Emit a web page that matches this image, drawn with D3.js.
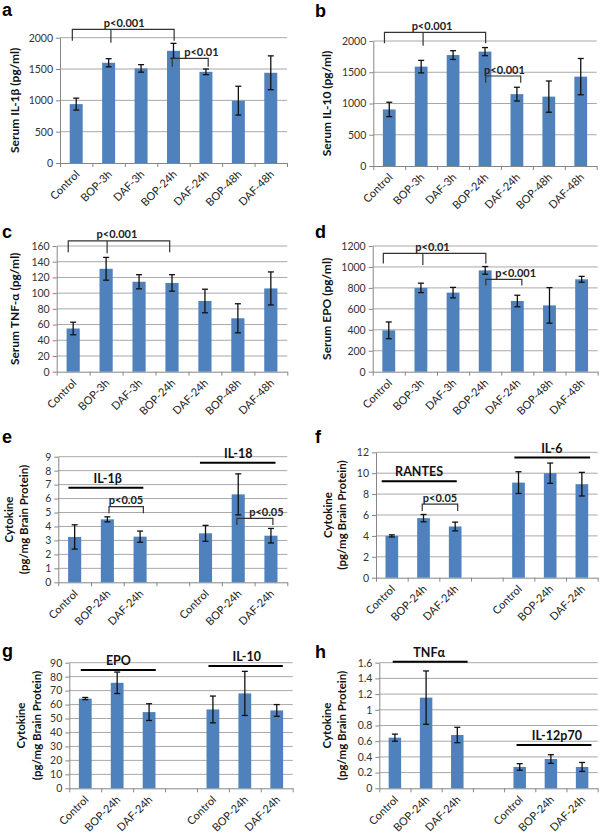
<!DOCTYPE html>
<html><head><meta charset="utf-8">
<script src="https://cdn.jsdelivr.net/npm/d3@7"></script>
<style>body{margin:0;background:#fff} svg{display:block}</style>
</head><body><svg id="chart" width="600" height="836"></svg>
<script>
// ---------- DATA ----------
const serumCats = ["Control","BOP-3h","DAF-3h","BOP-24h","DAF-24h","BOP-48h","DAF-48h"];
const brainCats = ["Control","BOP-24h","DAF-24h","","Control","BOP-24h","DAF-24h"];

const il1bSerum    = [940,1600,1510,1790,1455,995,1440];
const il1bSerumErr = [95,65,60,120,45,230,270];
const il10Serum    = [905,1590,1775,1830,1150,1110,1430];
const il10SerumErr = [115,100,70,65,110,250,290];
const tnfSerum     = [55,131,114.5,113,90,68,106];
const tnfSerumErr  = [8,14.5,9,10.5,15,18.5,21];
const epoSerum     = [395,800,755,967,675,633,882];
const epoSerumErr  = [80,45,50,37,55,170,28];

const il1bBrain = [3.25,4.51,3.27],   il1bBrainErr = [0.87,0.18,0.4];
const il18Brain = [3.51,6.3,3.34],    il18BrainErr = [0.57,1.47,0.52];
const rantesBrain = [4.0,5.7,4.9],    rantesBrainErr = [0.1,0.35,0.42];
const il6Brain = [9.1,10.0,8.95],     il6BrainErr = [1.04,0.97,1.13];
const epoBrain = [64.3,75.6,54.6],    epoBrainErr = [0.8,7.7,6];
const il10Brain = [56.5,68,55.8],     il10BrainErr = [9.6,15.8,4.2];
const tnfBrain = [0.645,1.155,0.679], tnfBrainErr = [0.045,0.34,0.098];
const il12Brain = [0.272,0.373,0.272],il12BrainErr = [0.042,0.055,0.057];

const ticksA = [0,500,1000,1500,2000];
const ticksB = [0,500,1000,1500,2000];
const ticksC = [0,20,40,60,80,100,120,140,160];
const ticksD = [0,200,400,600,800,1000,1200];
const ticksE = [0,1,2,3,4,5,6,7,8,9];
const ticksF = [0,2,4,6,8,10,12];
const ticksG = [0,10,20,30,40,50,60,70,80,90];
const ticksH = [0,0.2,0.4,0.6,0.8,1,1.2,1.4,1.6];

// significance brackets (x in category index units, y in data units)
const bracketsA = [
  {x1:-0.12, x2:3.02, mid:1.07, y:2133, drop:1952, midDrop:1920, label:"p<0.001", lx:1.48},
  {x1:2.96, x2:4.07, y:1670, drop:1537, label:"p<0.01", lx:3.86}
];
const bracketsB = [
  {x1:-0.15, x2:3.02, mid:1.06, y:2139, drop:1963, midDrop:1925, label:"p<0.001", lx:1.34},
  {x1:3.02, x2:4.12, y:1440, drop:1333, label:"p<0.001", lx:3.61}
];
const bracketsC = [
  {x1:-0.15, x2:2.93, mid:1.03, y:166.4, drop:152, midDrop:150.7, label:"p<0.001", lx:1.33}
];
const bracketsD = [
  {x1:-0.17, x2:3.02, mid:1.06, y:1130, drop:1034, midDrop:1018, label:"p<0.01", lx:1.36},
  {x1:3.02, x2:4.14, y:882, drop:822, label:"p<0.001", lx:3.95}
];
const bracketsE = [
  {x1:1.05, x2:2.1, y:5.42, drop:4.94, label:"p<0.05", lx:1.57},
  {x1:4.96, x2:6.06, y:4.58, drop:4.1, label:"p<0.05", lx:5.86}
];
const bracketsF = [
  {x1:0.96, x2:2.08, y:7.05, drop:6.38, label:"p<0.05", lx:1.52}
];
// group lines
const groupsE = [{x1:-0.19,x2:2.1,y:6.78,label:"IL-1β",lx:1.01},{x1:3.83,x2:6.14,y:8.57,label:"IL-18",lx:5.0}];
const groupsF = [{x1:-0.32,x2:2.05,y:9.22,label:"RANTES",lx:0.86},{x1:3.87,x2:6.26,y:11.5,label:"IL-6",lx:5.05}];
const groupsG = [{x1:-0.14,x2:2.21,y:84.7,label:"EPO",lx:1.04},{x1:3.86,x2:6.19,y:87.6,label:"IL-10",lx:5.06}];
const groupsH = [{x1:-0.07,x2:2.33,y:1.613,label:"TNFα",lx:1.1},{x1:3.9,x2:6.3,y:0.552,label:"IL-12p70",lx:5.19}];

function brain(a, b){ return [a[0],a[1],a[2],null,b[0],b[1],b[2]]; }

// ---------- DRAW ----------
const svg = d3.select("#chart");
const FONT = "Lato, 'Open Sans', sans-serif";
const BAR = "#4f81bd";

const panels = [
  {letter:"a", lx:2, ly:16, left:60, right:287, top:37.7, bottom:163, cats:serumCats, vals:il1bSerum, errs:il1bSerumErr, ticks:ticksA, title:["Serum IL-1β (pg/ml)"], tfs:12, tx:[-45], brackets:bracketsA, groups:[]},
  {letter:"b", lx:315, ly:16.5, left:373.3, right:596.7, top:41, bottom:166, cats:serumCats, vals:il10Serum, errs:il10SerumErr, ticks:ticksB, title:["Serum IL-10 (pg/ml)"], tfs:12, tx:[-46.5], brackets:bracketsB, groups:[]},
  {letter:"c", lx:2, ly:238, left:56.7, right:287.3, top:246, bottom:371.7, cats:serumCats, vals:tnfSerum, errs:tnfSerumErr, ticks:ticksC, title:["Serum TNF-α (pg/ml)"], tfs:12, tx:[-41.7], brackets:bracketsC, groups:[]},
  {letter:"d", lx:315, ly:238, left:372.7, right:597.7, top:246, bottom:371.7, cats:serumCats, vals:epoSerum, errs:epoSerumErr, ticks:ticksD, title:["Serum EPO (pg/ml)"], tfs:12, tx:[-46], brackets:bracketsD, groups:[]},
  {letter:"e", lx:2, ly:443, left:58.3, right:287.3, top:456.7, bottom:582.3, cats:brainCats, vals:brain(il1bBrain,il18Brain), errs:brain(il1bBrainErr,il18BrainErr), ticks:ticksE, title:["Cytokine","(pg/mg Brain Protein)"], tfs:11.5, tx:[-49,-34], brackets:bracketsE, groups:groupsE},
  {letter:"f", lx:315, ly:443, left:376, right:597.7, top:452.3, bottom:577.7, cats:brainCats, vals:brain(rantesBrain,il6Brain), errs:brain(rantesBrainErr,il6BrainErr), ticks:ticksF, title:["Cytokine","(pg/mg Brain Protein)"], tfs:11.5, tx:[-47.7,-34.3], brackets:bracketsF, groups:groupsF},
  {letter:"g", lx:2, ly:657, left:69.3, right:292.7, top:662.7, bottom:788.3, cats:brainCats, vals:brain(epoBrain,il10Brain), errs:brain(epoBrainErr,il10BrainErr), ticks:ticksG, title:["Cytokine","(pg/mg Brain Protein)"], tfs:11.5, tx:[-48.6,-32.5], brackets:[], groups:groupsG},
  {letter:"h", lx:315, ly:658, left:379.3, right:597.7, top:662.7, bottom:788.3, cats:brainCats, vals:brain(tnfBrain,il12Brain), errs:brain(tnfBrainErr,il12BrainErr), ticks:ticksH, title:["Cytokine","(pg/mg Brain Protein)"], tfs:11.5, tx:[-52,-37], brackets:[], groups:groupsH}
];

panels.forEach(p => {
  const n = p.cats.length;
  const g = svg.append("g");
  const x = d3.scaleBand().domain(d3.range(n)).range([p.left, p.right]).paddingInner(0.6).paddingOuter(0.3);
  const xc = d3.scaleLinear().domain([-0.5, n - 0.5]).range([p.left, p.right]);
  const ymax = p.ticks[p.ticks.length-1];
  const y = d3.scaleLinear().domain([0, ymax]).range([p.bottom, p.top]);

  // gridlines
  g.append("g").selectAll("line").data(p.ticks.filter(t => t > 0)).join("line")
    .attr("x1", p.left).attr("x2", p.right)
    .attr("y1", d => y(d)).attr("y2", d => y(d))
    .attr("stroke", "#a8a8a8").attr("stroke-width", 1);

  // y axis
  const ya = g.append("g").attr("transform", `translate(${p.left},0)`)
    .call(d3.axisLeft(y).tickValues(p.ticks).tickSize(4).tickSizeOuter(0).tickPadding(3).tickFormat(d3.format("~g")));
  ya.select(".domain").attr("stroke", "#868686");
  ya.selectAll(".tick line").attr("stroke", "#868686");
  ya.selectAll("text").attr("font-family", FONT).attr("font-size", 10.5).attr("fill", "#333");

  // x axis (ticks at category boundaries)
  const xa = g.append("g").attr("transform", `translate(0,${p.bottom})`)
    .call(d3.axisBottom(xc).tickValues(d3.range(n + 1).map(i => i - 0.5)).tickSize(4).tickSizeOuter(0).tickFormat(""));
  xa.select(".domain").attr("stroke", "#868686");
  xa.selectAll(".tick line").attr("stroke", "#868686");

  // x labels
  g.append("g").selectAll("text").data(p.cats.map((c,i)=>({c,i})).filter(d => d.c)).join("text")
    .attr("transform", d => `translate(${xc(d.i) + 4},${p.bottom + 12}) rotate(-45)`)
    .attr("text-anchor", "end")
    .attr("font-family", FONT).attr("font-size", 11).attr("fill", "#222")
    .text(d => d.c);

  // bars
  const data = p.vals.map((v,i)=>({v, e:p.errs[i], i})).filter(d => d.v != null);
  g.append("g").selectAll("rect").data(data).join("rect")
    .attr("x", d => x(d.i)).attr("width", x.bandwidth())
    .attr("y", d => y(d.v)).attr("height", d => p.bottom - y(d.v))
    .attr("fill", BAR);

  // error bars
  const eb = g.append("g").attr("stroke", "#111").attr("stroke-width", 1.3);
  eb.selectAll("line.v").data(data).join("line").attr("class","v")
    .attr("x1", d => xc(d.i)).attr("x2", d => xc(d.i))
    .attr("y1", d => y(d.v - d.e)).attr("y2", d => y(d.v + d.e));
  eb.selectAll("line.t").data(data).join("line").attr("class","t")
    .attr("x1", d => xc(d.i) - 3).attr("x2", d => xc(d.i) + 3)
    .attr("y1", d => y(d.v + d.e)).attr("y2", d => y(d.v + d.e));
  eb.selectAll("line.b").data(data).join("line").attr("class","b")
    .attr("x1", d => xc(d.i) - 3).attr("x2", d => xc(d.i) + 3)
    .attr("y1", d => y(d.v - d.e)).attr("y2", d => y(d.v - d.e));

  // brackets
  p.brackets.forEach(b => {
    const path = d3.path();
    path.moveTo(xc(b.x1), y(b.drop)); path.lineTo(xc(b.x1), y(b.y));
    path.lineTo(xc(b.x2), y(b.y)); path.lineTo(xc(b.x2), y(b.drop));
    if (b.mid != null) { path.moveTo(xc(b.mid), y(b.y)); path.lineTo(xc(b.mid), y(b.midDrop)); }
    g.append("path").attr("d", path.toString()).attr("fill", "none").attr("stroke", "#333").attr("stroke-width", 1.2);
    g.append("text").attr("x", xc(b.lx)).attr("y", y(b.y) - 2.5)
      .attr("text-anchor", "middle").attr("font-family", FONT).attr("font-weight", "bold")
      .attr("font-size", 11).attr("fill", "#222").text(b.label);
  });

  // group lines
  p.groups.forEach(gr => {
    g.append("line").attr("x1", xc(gr.x1)).attr("x2", xc(gr.x2)).attr("y1", y(gr.y)).attr("y2", y(gr.y))
      .attr("stroke", "#000").attr("stroke-width", 2);
    g.append("text").attr("x", xc(gr.lx)).attr("y", y(gr.y) - 5)
      .attr("text-anchor", "middle").attr("font-family", FONT).attr("font-weight", "bold")
      .attr("font-size", 12.5).attr("fill", "#111").text(gr.label);
  });

  // y title
  const cy = (p.top + p.bottom) / 2;
  p.title.forEach((t, k) => {
    g.append("text").attr("transform", `translate(${p.left + p.tx[k]},${cy}) rotate(-90)`)
      .attr("text-anchor", "middle").attr("dy", "0.35em")
      .attr("font-family", FONT).attr("font-weight", "bold").attr("font-size", p.tfs).attr("fill", "#111")
      .text(t);
  });

  // panel letter
  g.append("text").attr("x", p.lx).attr("y", p.ly)
    .attr("font-family", "'Liberation Sans', Arial, sans-serif").attr("font-weight", "bold")
    .attr("font-size", 18).attr("fill", "#000").text(p.letter);
});
</script>
</body></html>
